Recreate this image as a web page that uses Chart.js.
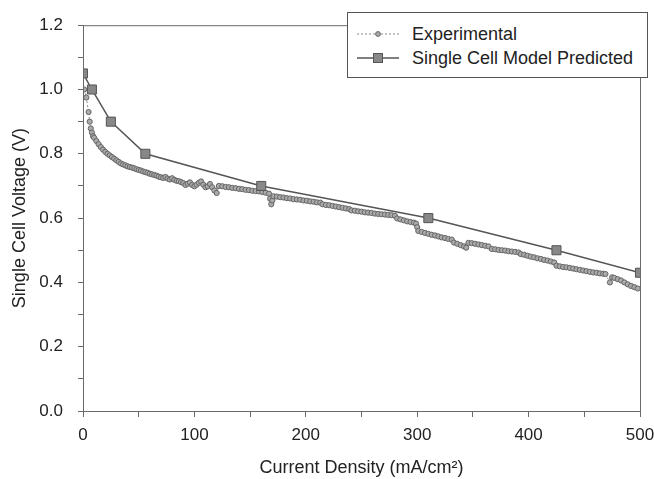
<!DOCTYPE html>
<html>
<head>
<meta charset="utf-8">
<script src="https://cdn.jsdelivr.net/npm/chart.js@4/dist/chart.umd.min.js"></script>
<style>
  body { margin: 0; background: #fff; }
  .wrap { position: relative; width: 654px; height: 479px; }
  .legend {
    position: absolute; left: 347px; top: 12px; width: 299px; height: 64px;
    border: 1px solid #555; background: #fff;
    font-family: Arial, 'Liberation Sans', sans-serif; font-size: 18px; color: #222;
  }
  .legend__row { position: absolute; left: 0; height: 22px; display: flex; align-items: center; }
  .legend__row svg { margin-left: 8px; margin-right: 12px; }
</style>
</head>
<body>
<div class="wrap">
  <canvas id="chart" width="654" height="479"></canvas>
  <div class="legend">
    <div class="legend__row" style="top: 10px;">
      <svg width="44" height="10"><line x1="1" y1="5" x2="43" y2="5" stroke="#888" stroke-width="1" stroke-dasharray="2,2"/><circle cx="22" cy="5" r="2.4" fill="#aaa" stroke="#666" stroke-width="1"/></svg>
      <span>Experimental</span>
    </div>
    <div class="legend__row" style="top: 34px;">
      <svg width="44" height="12"><line x1="1" y1="6" x2="43" y2="6" stroke="#555" stroke-width="1.5"/><rect x="17.5" y="1.5" width="9" height="9" fill="#888" stroke="#555" stroke-width="1"/></svg>
      <span>Single Cell Model Predicted</span>
    </div>
  </div>
</div>
<script>
// 모델 예측값
const modelCurrent = [0, 8, 25, 56, 160, 310, 425, 500];
const modelVoltage = [1.05, 1.0, 0.9, 0.8, 0.7, 0.6, 0.5, 0.43];

const expCurrent = [
  1, 3, 5, 6, 7, 8, 9, 10, 12, 14, 16, 18, 20, 22, 24, 26, 28, 30, 32, 34,
  36, 38, 40, 42, 44, 46, 48, 50, 52, 54, 56, 58, 60, 62, 64, 66, 68, 70, 72, 74,
  76, 78, 80, 82, 84, 86, 88, 90, 92, 94, 96, 98, 100, 102, 104, 106, 108, 110, 112, 114,
  116, 118, 120, 122, 125, 128, 131, 134, 137, 140, 143, 146, 149, 152, 155, 158, 161, 164, 167, 168,
  169, 170, 171, 174, 177, 180, 183, 186, 189, 192, 195, 198, 201, 204, 207, 210, 213, 215, 218, 221,
  224, 227, 230, 233, 236, 239, 241, 244, 247, 250, 253, 256, 259, 262, 265, 268, 271, 274, 277, 280,
  282, 285, 288, 291, 294, 297, 299, 300, 301, 304, 307, 310, 313, 316, 319, 322, 325, 328, 331, 333,
  336, 339, 342, 344, 346, 349, 352, 355, 358, 361, 364, 367, 370, 373, 376, 379, 382, 385, 388, 391,
  393, 396, 399, 402, 405, 408, 411, 414, 417, 420, 423, 425, 428, 431, 434, 437, 440, 443, 446, 449,
  452, 455, 458, 461, 464, 467, 469, 473, 475, 477, 480, 483, 486, 489, 492, 495, 498,
];
const expVoltage = [
  1.0, 0.975, 0.93, 0.9, 0.879, 0.866, 0.855, 0.85, 0.84, 0.83, 0.821, 0.813, 0.806, 0.8, 0.795, 0.79, 0.785, 0.78, 0.775, 0.77,
  0.767, 0.764, 0.761, 0.759, 0.757, 0.755, 0.752, 0.75, 0.748, 0.745, 0.743, 0.741, 0.738, 0.736, 0.734, 0.732, 0.729, 0.727, 0.725, 0.728,
  0.723, 0.72, 0.724, 0.719, 0.716, 0.715, 0.712, 0.709, 0.703, 0.707, 0.711, 0.703, 0.699, 0.704, 0.71, 0.714, 0.704, 0.696, 0.699, 0.706,
  0.696, 0.686, 0.678, 0.7, 0.699, 0.697, 0.696, 0.694, 0.693, 0.691, 0.69, 0.688, 0.687, 0.685, 0.684, 0.683, 0.681, 0.679, 0.676, 0.66,
  0.643, 0.655, 0.668, 0.667, 0.665, 0.664, 0.662, 0.661, 0.659, 0.658, 0.657, 0.655, 0.654, 0.652, 0.651, 0.649, 0.648, 0.643, 0.641, 0.64,
  0.638, 0.636, 0.634, 0.632, 0.63, 0.628, 0.624, 0.623, 0.621, 0.62, 0.618, 0.617, 0.616, 0.614, 0.613, 0.612, 0.611, 0.61, 0.609, 0.607,
  0.599, 0.596, 0.593, 0.59, 0.588, 0.586, 0.583, 0.572, 0.56, 0.557, 0.554, 0.551, 0.548, 0.546, 0.543, 0.54, 0.538, 0.535, 0.533, 0.524,
  0.52, 0.516, 0.512, 0.508, 0.523, 0.522, 0.52, 0.518, 0.516, 0.514, 0.512, 0.504, 0.503, 0.501, 0.5, 0.499, 0.497, 0.496, 0.495, 0.493,
  0.488, 0.486, 0.483, 0.48, 0.478, 0.475, 0.473, 0.47, 0.468, 0.465, 0.462, 0.452, 0.45, 0.448, 0.447, 0.445, 0.443, 0.441, 0.439, 0.437,
  0.435, 0.433, 0.431, 0.43, 0.428, 0.427, 0.426, 0.4, 0.416, 0.414, 0.41, 0.406, 0.4, 0.394, 0.389, 0.385, 0.381,
];

// 축 눈금
const xTickStep = 50;
const xLabelStep = 100;
const yTickStep = 0.1;
const xRange = [0, 500];
const yRange = [0, 1.2];

const axisColor = '#6a6a6a';
const textColor = '#222';
const fontFamily = "Arial, 'Liberation Sans', sans-serif";

const toPoints = (xs, ys) => xs.map((x, i) => ({ x, y: ys[i] }));

// 차트 영역 테두리
const frame = {
  id: 'frame',
  afterDatasetsDraw(chart) {
    const { ctx, chartArea: a } = chart;
    ctx.save();
    ctx.strokeStyle = axisColor;
    ctx.lineWidth = 1;
    ctx.strokeRect(a.left + 0.5, a.top + 0.5, a.right - a.left, a.bottom - a.top);
    ctx.restore();
  },
};

new Chart(document.getElementById('chart'), {
  type: 'scatter',
  data: {
    datasets: [
      {
        label: 'Single Cell Model Predicted',
        data: toPoints(modelCurrent, modelVoltage),
        showLine: true,
        borderColor: '#555',
        borderWidth: 1.5,
        pointStyle: 'rect',
        pointRadius: 6.4,
        pointBackgroundColor: '#888',
        pointBorderColor: '#555',
        pointBorderWidth: 1,
        order: 0,
      },
      {
        label: 'Experimental',
        data: toPoints(expCurrent, expVoltage),
        showLine: true,
        borderColor: '#888',
        borderWidth: 1,
        borderDash: [2, 2],
        pointStyle: 'circle',
        pointRadius: 2.6,
        pointBackgroundColor: '#aaa',
        pointBorderColor: '#666',
        pointBorderWidth: 1,
        order: 1,
      },
    ],
  },
  options: {
    responsive: false,
    devicePixelRatio: 1,
    animation: false,
    layout: { padding: { top: 23, right: 0, left: 0, bottom: 0 } },
    plugins: { legend: { display: false }, tooltip: { enabled: false } },
    scales: {
      x: {
        type: 'linear',
        min: xRange[0],
        max: xRange[1],
        afterFit: (scale) => {
          scale.height = 68;
          scale.paddingLeft = 0;
          scale.paddingRight = 14;
        },
        grid: { drawOnChartArea: false, tickLength: 6, color: axisColor, tickColor: axisColor },
        border: { color: axisColor },
        ticks: {
          stepSize: xTickStep,
          autoSkip: false,
          maxRotation: 0,
          padding: 8,
          color: textColor,
          font: { family: fontFamily, size: 17 },
          callback: (v) => (v % xLabelStep === 0 ? v : ''),
        },
        title: {
          display: true,
          text: 'Current Density (mA/cm²)',
          color: textColor,
          font: { family: fontFamily, size: 18 },
          padding: { top: 0, bottom: 0 },
        },
      },
      y: {
        type: 'linear',
        min: yRange[0],
        max: yRange[1],
        afterFit: (scale) => { scale.width = 83; },
        grid: { drawOnChartArea: false, tickLength: 5, color: axisColor, tickColor: axisColor },
        border: { color: axisColor },
        ticks: {
          stepSize: yTickStep,
          autoSkip: false,
          padding: 15,
          color: textColor,
          font: { family: fontFamily, size: 17 },
          callback: (v) => (Math.round(v * 10) % 2 === 0 ? v.toFixed(1) : ''),
        },
        title: {
          display: true,
          text: 'Single Cell Voltage (V)',
          color: textColor,
          font: { family: fontFamily, size: 18 },
          padding: { top: 9, bottom: 0 },
        },
      },
    },
  },
  plugins: [frame],
});
</script>
</body>
</html>
